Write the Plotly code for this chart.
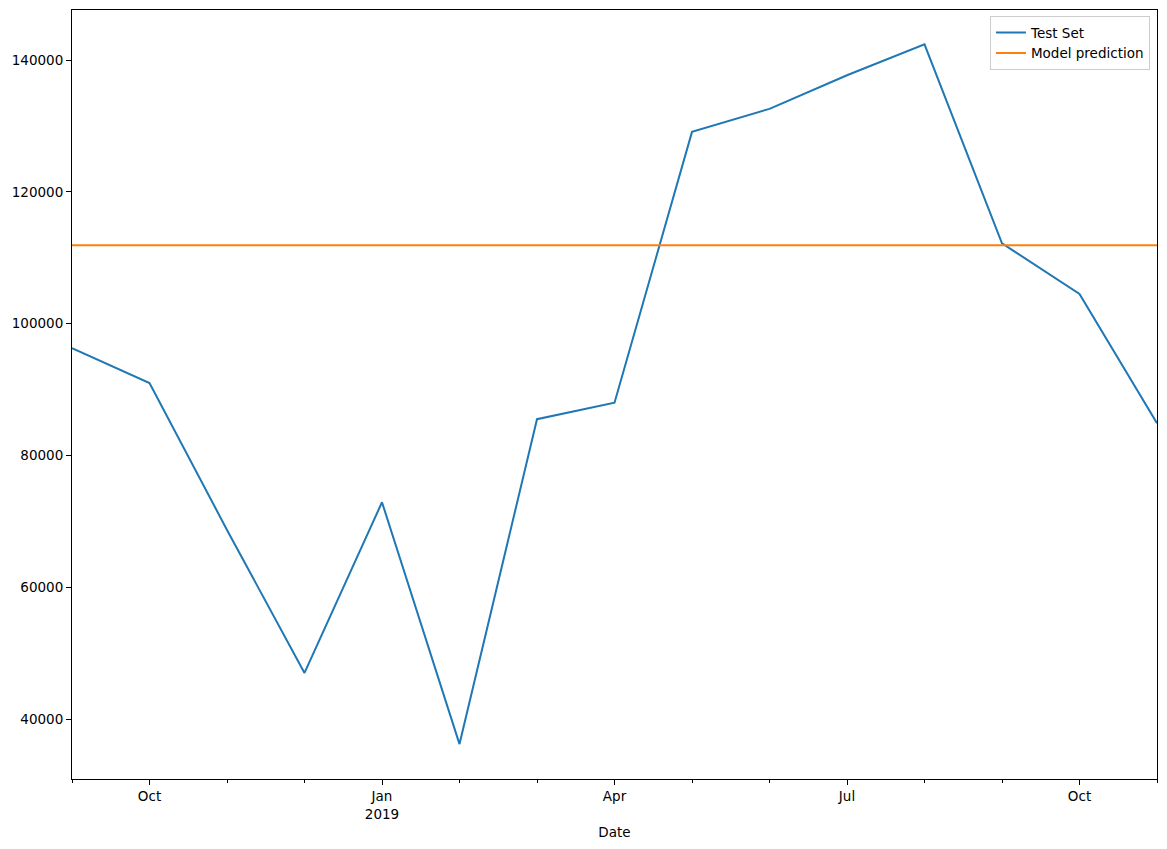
import pandas as pd
import plotly.graph_objects as go

dates = ["2018-09", "2018-10", "2018-11", "2018-12", "2019-01", "2019-02",
         "2019-03", "2019-04", "2019-05", "2019-06", "2019-07", "2019-08",
         "2019-09", "2019-10", "2019-11"]
test_values = [96300, 91000, 68700, 47000, 72900, 36200, 85500, 88000, 129100, 132600,
               137700, 142400, 112200, 104500, 84900]
prediction = [111900] * len(dates)

tick_months = ["2018-10", "2019-01", "2019-04", "2019-07", "2019-10"]
tick_text = ["Oct", "Jan<br>2019", "Apr", "Jul", "Oct"]
y_ticks = [40000, 60000, 80000, 100000, 120000, 140000]

# pandas-style period axis: one unit per month (equal spacing)
x_pos = [int(p.ordinal) for p in pd.PeriodIndex(dates, freq="M")]
tick_pos = [int(p.ordinal) for p in pd.PeriodIndex(tick_months, freq="M")]

fig = go.Figure()
fig.add_trace(go.Scatter(x=x_pos, y=test_values, mode="lines", name="Test Set",
                         line=dict(color="#1f77b4", width=2)))
fig.add_trace(go.Scatter(x=x_pos, y=prediction, mode="lines", name="Model prediction",
                         line=dict(color="#ff7f0e", width=2)))

fig.update_layout(
    width=1167, height=849,
    margin=dict(l=64, r=18, t=2, b=78),
    plot_bgcolor="white", paper_bgcolor="white",
    font=dict(family="DejaVu Sans", size=13.5, color="black"),
    showlegend=True,
    legend=dict(x=0.9935, y=0.992, xanchor="right", yanchor="top",
                bordercolor="#cccccc", borderwidth=1, bgcolor="rgba(255,255,255,0.8)",
                font=dict(size=13.5)),
    xaxis=dict(
        range=[x_pos[0], x_pos[-1]],
        tickvals=tick_pos, ticktext=tick_text, tickfont=dict(size=13.5),
        ticks="outside", ticklen=5, tickwidth=1, tickcolor="black",
        showline=True, linecolor="black", linewidth=1, mirror=True,
        showgrid=False, zeroline=False,
        title=dict(text="Date", standoff=6, font=dict(size=13.5)),
        minor=dict(dtick=1, tick0=x_pos[0], ticks="outside", ticklen=3,
                   tickcolor="black", showgrid=False),
    ),
    yaxis=dict(
        range=[30900, 147600],
        tickvals=y_ticks, ticktext=[str(v) for v in y_ticks], tickfont=dict(size=13.5),
        ticks="outside", ticklen=5, tickwidth=1, tickcolor="black",
        showline=True, linecolor="black", linewidth=1, mirror=True,
        showgrid=False, zeroline=False,
    ),
)

fig.write_html("out.html")
